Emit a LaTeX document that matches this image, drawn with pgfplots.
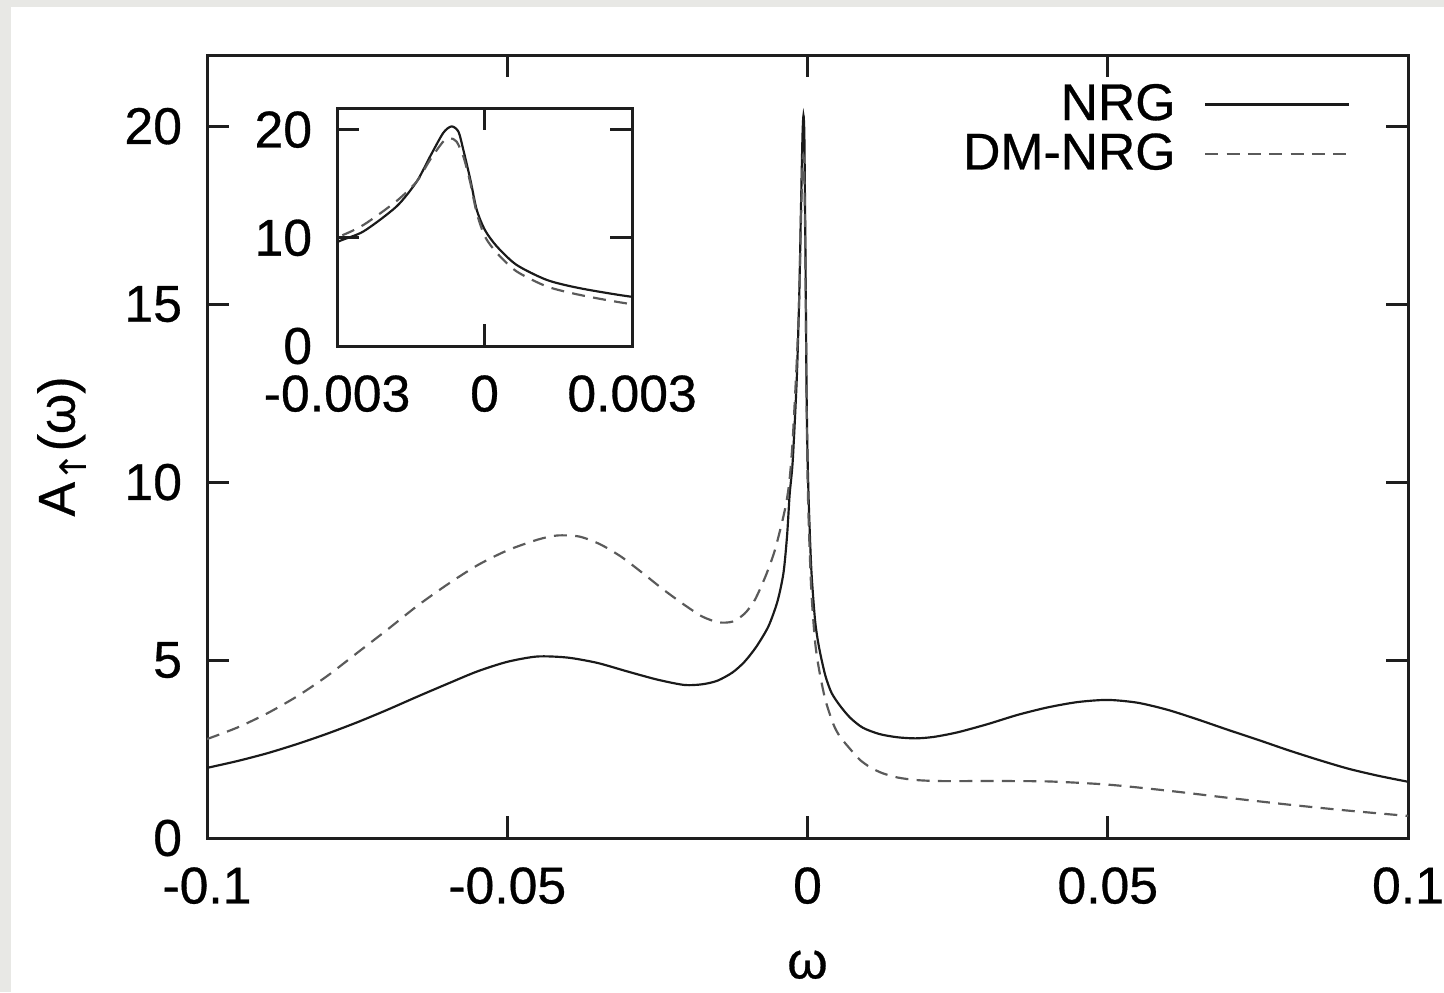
\documentclass[border=0pt]{standalone}
\usepackage{fontspec}
\setmainfont{Liberation Sans}[UprightFeatures={FakeBold=0.6}]
\newfontfamily\dejavu{DejaVu Sans}
\usepackage{pgfplots}
\pgfplotsset{compat=1.18}
\usepackage{pgfplotstable}

\definecolor{frame}{HTML}{1E1E1E}
\definecolor{solidc}{HTML}{1A1A1A}
\definecolor{dashc}{HTML}{5A5A5A}
\definecolor{bgray}{HTML}{E8E8E5}

\pgfplotstableread{
x y
-0.1 1.97
-0.095 2.16
-0.09 2.38
-0.085 2.64
-0.08 2.93
-0.075 3.25
-0.07 3.60
-0.065 3.97
-0.06 4.33
-0.055 4.68
-0.05 4.95
-0.045 5.10
-0.04 5.07
-0.035 4.92
-0.03 4.68
-0.025 4.45
-0.0205 4.30
-0.0175 4.32
-0.015 4.42
-0.0125 4.65
-0.0105 4.95
-0.0085 5.38
-0.0065 5.95
-0.0050 6.65
-0.0040 7.45
-0.0034 8.50
-0.00297 9.66
-0.00246 10.6
-0.00179 12.9
-0.00138 15.2
-0.00111 17.5
-0.00084 19.7
-0.00067 20.3
-0.00053 19.8
-0.00043 18.1
-0.00029 15.4
-0.00016 12.6
0.00001 10.7
0.00025 9.2
0.00065 7.5
0.00127 6.1
0.00194 5.34
0.00296 4.57
0.0040 4.08
0.0054 3.72
0.0071 3.38
0.0092 3.10
0.0120 2.92
0.0150 2.83
0.0180 2.80
0.0210 2.84
0.0250 2.97
0.0300 3.20
0.0350 3.46
0.0400 3.67
0.0450 3.82
0.0500 3.88
0.0550 3.80
0.0600 3.60
0.0650 3.33
0.0700 3.04
0.0750 2.76
0.0800 2.47
0.0850 2.20
0.0900 1.95
0.0950 1.75
0.1 1.58
}\nrg

\pgfplotstableread{
x y
-0.1 2.78
-0.095 3.10
-0.09 3.50
-0.085 3.98
-0.08 4.55
-0.075 5.20
-0.07 5.85
-0.065 6.52
-0.06 7.12
-0.055 7.66
-0.05 8.08
-0.045 8.38
-0.0417 8.50
-0.038 8.47
-0.0345 8.25
-0.031 7.90
-0.0275 7.45
-0.024 6.98
-0.0205 6.55
-0.0175 6.22
-0.0148 6.06
-0.0125 6.08
-0.0105 6.30
-0.0088 6.68
-0.0070 7.35
-0.0055 8.05
-0.0042 8.90
-0.0035 9.45
-0.00297 10.1
-0.00246 11.2
-0.00179 13.4
-0.00138 15.2
-0.00111 17.2
-0.00084 18.9
-0.00070 19.2
-0.00057 18.9
-0.00043 17.5
-0.00029 15.1
-0.00016 12.3
0.00001 10.1
0.00025 8.6
0.00065 6.9
0.00127 5.5
0.00194 4.72
0.00296 3.89
0.0043 3.20
0.0054 2.85
0.0071 2.50
0.0087 2.20
0.0105 1.98
0.0125 1.82
0.0150 1.70
0.0180 1.63
0.0220 1.60
0.0300 1.60
0.0400 1.59
0.0500 1.50
0.0600 1.33
0.0700 1.13
0.0800 0.94
0.0900 0.77
0.1 0.62
}\dmnrg

\pgfplotsset{
  mystyle/.style={
    scale only axis,
    tick align=inside,
    major tick length=6.6pt,
    minor tick num=0,
    scaled x ticks=false,
    scaled y ticks=false,
    axis line style={line width=0.9pt, color=frame},
    every tick/.style={line width=0.9pt, color=frame},
    tick label style={font=\fontsize{15.5}{18}\selectfont, inner sep=1pt},
    yticklabel style={xshift=-6.3pt},
    xticklabel style={yshift=-7.6pt},
  },
  solidline/.style={color=solidc, line width=0.65pt, smooth, tension=0.45},
  dashline/.style={color=dashc, line width=0.65pt, dash pattern=on 3.9pt off 2.5pt, smooth, tension=0.45},
}

\begin{document}
\begin{tikzpicture}
\useasboundingbox (-62.1pt,-46.2pt) rectangle (371.1pt,251.4pt);
\fill[bgray] (-62.1pt,-46.2pt) rectangle (371.1pt,251.4pt);
\fill[white] (-58.8pt,-46.2pt) rectangle (371.1pt,249.3pt);

\begin{axis}[
  mystyle,
  width=360.3pt, height=234.9pt,
  xmin=-0.1, xmax=0.1, ymin=0, ymax=22,
  xtick={-0.1,-0.05,0,0.05,0.1},
  xticklabels={-0.1,-0.05,0,0.05,0.1},
  ytick={0,5,10,15,20},
  yticklabels={0,5,10,15,20},
  xlabel={ω},
  ylabel={A\raisebox{-0.45ex}{\fontsize{11}{12}\selectfont\dejavu ↑}(ω)},
  label style={font=\fontsize{15.5}{18}\selectfont},
  xlabel style={at={(axis description cs:0.5,-0.1618)}, anchor=center},
  ylabel style={at={(axis description cs:-0.1207,0.5)}, anchor=center},
  legend plot pos=right,
  legend cell align=right,
  legend image code/.code={\draw[#1] (0pt,0pt) -- (43pt,0pt);},
  legend style={draw=none, fill=none, at={(axis cs:0.1,22)}, anchor=north east,
    xshift=-17.3pt, yshift=-7.5pt, font=\fontsize{15.5}{18}\selectfont,
    inner sep=0pt, nodes={inner sep=1pt},
    row sep=0.5pt, column sep=7.6pt},
]
\addplot[solidline] table[x=x,y=y] {\nrg};
\addlegendentry{NRG}
\addplot[dashline] table[x=x,y=y] {\dmnrg};
\addlegendentry{DM-NRG}
\end{axis}

\begin{axis}[
  mystyle,
  at={(39pt,147.6pt)}, anchor=south west,
  width=88.5pt, height=71.4pt,
  xmin=-0.003, xmax=0.003, ymin=0, ymax=22,
  xtick={-0.003,0,0.003},
  xticklabels={-0.003,0,0.003},
  ytick={0,10,20},
  yticklabels={0,10,20},
  axis background/.style={fill=white},
]
\addplot[solidline] table[x=x,y=y] {\nrg};
\addplot[dashline] table[x=x,y=y] {\dmnrg};
\end{axis}
\end{tikzpicture}
\end{document}
